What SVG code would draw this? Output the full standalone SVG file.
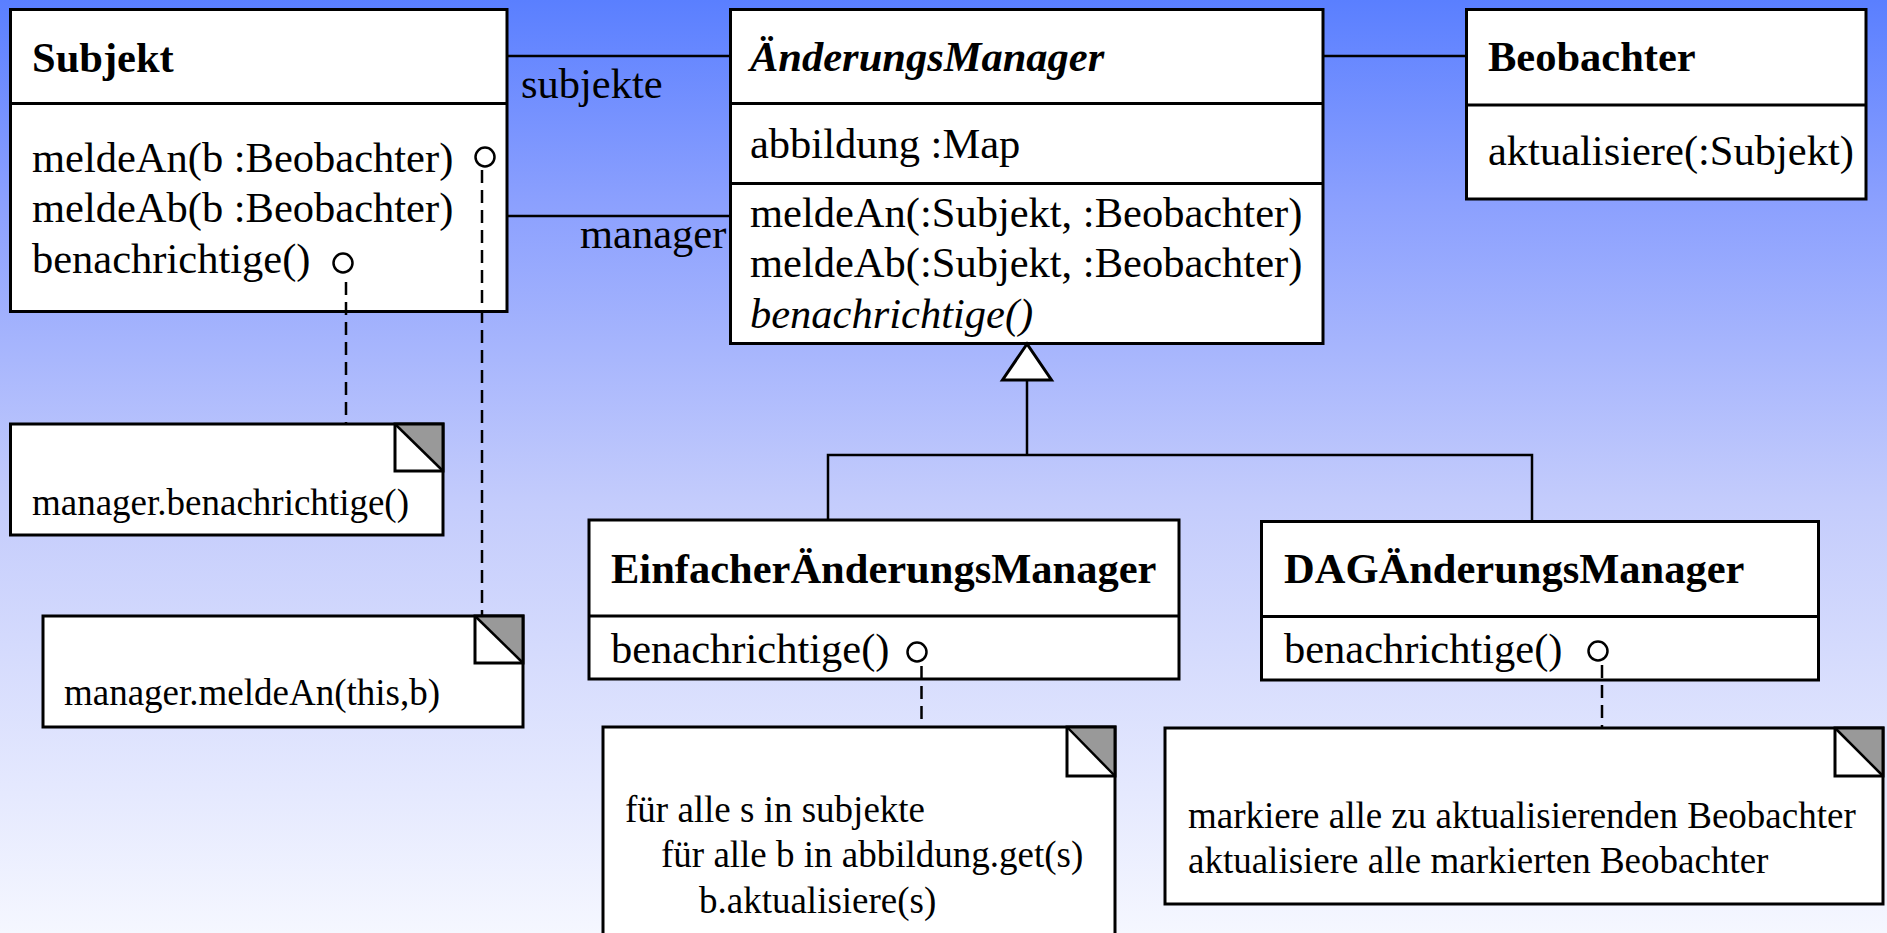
<svg xmlns="http://www.w3.org/2000/svg" width="1887" height="933" viewBox="0 0 1887 933">
  <defs>
    <linearGradient id="bg" x1="0" y1="0" x2="0" y2="1">
      <stop offset="0" stop-color="#5a7fff"/>
      <stop offset="0.21" stop-color="#8a9ffe"/>
      <stop offset="0.54" stop-color="#c4ccfc"/>
      <stop offset="1" stop-color="#f5f7ff"/>
    </linearGradient>
    <style>
      .box { fill: #ffffff; stroke: #000000; stroke-width: 3; }
      .div { stroke: #000000; stroke-width: 3; fill: none; }
      .line { stroke: #000000; stroke-width: 2.5; fill: none; }
      .dash { stroke: #000000; stroke-width: 2.5; fill: none; stroke-dasharray: 13 7; }
      .port { fill: #ffffff; stroke: #000000; stroke-width: 2.5; }
      .fold { fill: #999999; stroke: none; }
      .ear { fill: none; stroke: #000000; stroke-width: 3; }
      .t { font-family: 'Liberation Serif', 'Times New Roman', serif; font-size: 42.5px; fill: #000000; }
      .b { font-weight: bold; }
      .i { font-style: italic; }
      .n { font-family: 'Liberation Serif', 'Times New Roman', serif; font-size: 37px; fill: #000000; }
    </style>
  </defs>

  <rect x="0" y="0" width="1887" height="933" fill="url(#bg)"/>

  <g id="subjekt">
    <rect class="box" x="10.5" y="9.5" width="496.5" height="302"/>
    <line class="div" x1="10.5" y1="103.5" x2="507" y2="103.5"/>
    <text class="t b" x="32" y="72" font-family="Liberation Serif, serif">Subjekt</text>
    <text class="t" x="32" y="172">meldeAn(b :Beobachter)</text>
    <text class="t" x="32" y="222">meldeAb(b :Beobachter)</text>
    <text class="t" x="32" y="273">benachrichtige()</text>
    <circle class="port" cx="485" cy="157" r="9.5"/>
    <circle class="port" cx="343" cy="263" r="9.5"/>
  </g>

  <g id="aenderungsmanager">
    <rect class="box" x="730.5" y="9.5" width="592.5" height="334"/>
    <line class="div" x1="730.5" y1="103.5" x2="1323" y2="103.5"/>
    <line class="div" x1="730.5" y1="183.5" x2="1323" y2="183.5"/>
    <text class="t b i" x="750" y="71">ÄnderungsManager</text>
    <text class="t" x="750" y="158">abbildung :Map</text>
    <text class="t" x="750" y="227">meldeAn(:Subjekt, :Beobachter)</text>
    <text class="t" x="750" y="277">meldeAb(:Subjekt, :Beobachter)</text>
    <text class="t i" x="750" y="328">benachrichtige()</text>
  </g>

  <g id="beobachter">
    <rect class="box" x="1466.5" y="9.5" width="399.5" height="189.5"/>
    <line class="div" x1="1466.5" y1="105" x2="1866" y2="105"/>
    <text class="t b" x="1488" y="71">Beobachter</text>
    <text class="t" x="1488" y="165">aktualisiere(:Subjekt)</text>
  </g>

  <g id="einfacher">
    <rect class="box" x="589" y="520" width="590" height="159"/>
    <line class="div" x1="589" y1="616" x2="1179" y2="616"/>
    <text class="t b" x="611" y="583">EinfacherÄnderungsManager</text>
    <text class="t" x="611" y="663">benachrichtige()</text>
    <circle class="port" cx="917" cy="652" r="9.5"/>
  </g>

  <g id="dag">
    <rect class="box" x="1261.5" y="521.5" width="557" height="158.5"/>
    <line class="div" x1="1261.5" y1="616.5" x2="1818.5" y2="616.5"/>
    <text class="t b" x="1284" y="583">DAGÄnderungsManager</text>
    <text class="t" x="1284" y="663">benachrichtige()</text>
    <circle class="port" cx="1598" cy="651" r="9.5"/>
  </g>

  <g id="note-benachrichtige">
    <rect class="box" x="10.5" y="424" width="432.5" height="111"/>
    <polygon class="fold" points="395,424 443,424 443,471"/>
    <line class="line" x1="395" y1="424" x2="443" y2="471"/>
    <rect class="ear" x="395" y="424" width="48" height="47"/>
    <text class="n" x="32" y="515">manager.benachrichtige()</text>
  </g>

  <g id="note-meldean">
    <rect class="box" x="43" y="616" width="480" height="111"/>
    <polygon class="fold" points="475,616 523,616 523,663"/>
    <line class="line" x1="475" y1="616" x2="523" y2="663"/>
    <rect class="ear" x="475" y="616" width="48" height="47"/>
    <text class="n" x="64" y="705">manager.meldeAn(this,b)</text>
  </g>

  <g id="note-einfacher">
    <rect class="box" x="603" y="727" width="512" height="220"/>
    <polygon class="fold" points="1067,727 1115,727 1115,776"/>
    <line class="line" x1="1067" y1="727" x2="1115" y2="776"/>
    <rect class="ear" x="1067" y="727" width="48" height="49"/>
    <text class="n" x="625" y="822">für alle s in subjekte</text>
    <text class="n" x="661" y="867">für alle b in abbildung.get(s)</text>
    <text class="n" x="699" y="913">b.aktualisiere(s)</text>
  </g>

  <g id="note-dag">
    <rect class="box" x="1165" y="728" width="718" height="176"/>
    <polygon class="fold" points="1835,728 1883,728 1883,776"/>
    <line class="line" x1="1835" y1="728" x2="1883" y2="776"/>
    <rect class="ear" x="1835" y="728" width="48" height="48"/>
    <text class="n" x="1188" y="828">markiere alle zu aktualisierenden Beobachter</text>
    <text class="n" x="1188" y="873">aktualisiere alle markierten Beobachter</text>
  </g>

  <!-- associations, generalization and note links, drawn over the boxes -->
  <g id="connectors">
    <line class="line" x1="507" y1="56" x2="731" y2="56"/>
    <line class="line" x1="507" y1="216" x2="731" y2="216"/>
    <line class="line" x1="1323" y1="56" x2="1467" y2="56"/>
    <text class="t" x="521" y="98">subjekte</text>
    <text class="t" x="580" y="248">manager</text>

    <polyline class="line" points="1027,380 1027,455"/>
    <polyline class="line" points="828,520 828,455 1532,455 1532,522"/>
    <polygon points="1027,344 1002.5,380 1051.5,380" fill="#ffffff" stroke="#000000" stroke-width="3"/>

    <line class="dash" x1="346" y1="282" x2="346" y2="424"/>
    <line class="dash" x1="482" y1="170" x2="482" y2="616"/>
    <line class="dash" x1="921.5" y1="666" x2="921.5" y2="727"/>
    <line class="dash" x1="1602" y1="665" x2="1602" y2="728"/>
  </g>
</svg>
